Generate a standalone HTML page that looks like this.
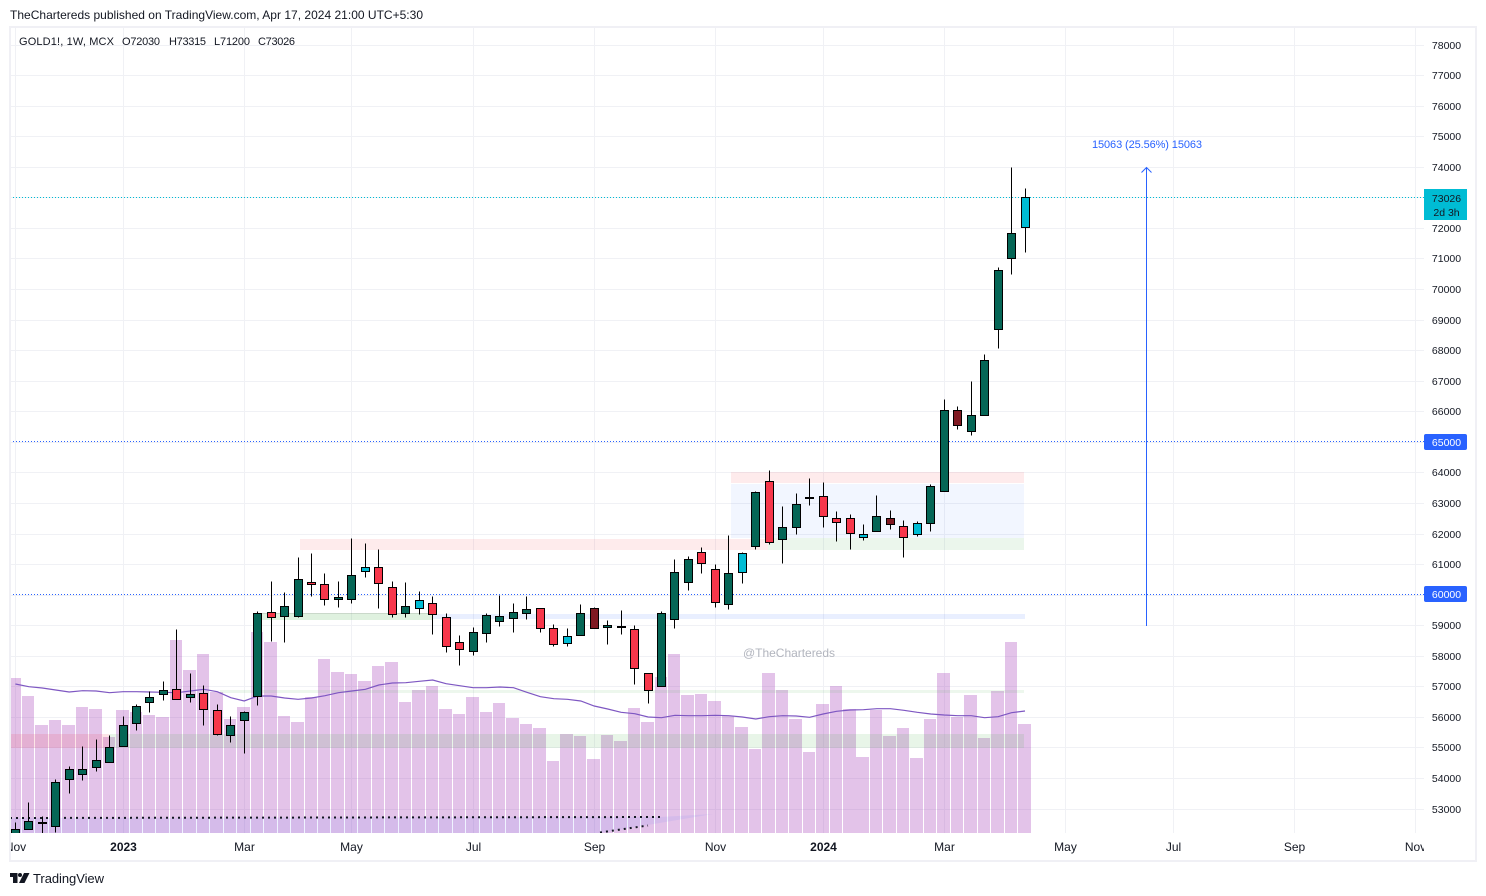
<!DOCTYPE html>
<html lang="en">
<head>
<meta charset="utf-8">
<title>GOLD1! 1W MCX chart</title>
<style>
html,body{margin:0;padding:0;background:#fff;width:1486px;height:896px;overflow:hidden}
svg{display:block}
text{font-family:"Liberation Sans",Arial,sans-serif;fill:#131722}
</style>
</head>
<body>
<svg id="chart" xmlns="http://www.w3.org/2000/svg" width="1486" height="896" viewBox="0 0 1486 896">
  <defs>
    <clipPath id="pane"><rect x="11" y="28" width="1413" height="805"/></clipPath>
    <clipPath id="timeClip"><rect x="11" y="834" width="1413" height="26"/></clipPath>
  </defs>
  <rect width="1486" height="896" fill="#fff"/>
  <text x="10" y="19" font-size="12" textLength="413" lengthAdjust="spacing">TheChartereds published on TradingView.com, Apr 17, 2024 21:00 UTC+5:30</text>
  <rect x="10" y="27" width="1466" height="834" fill="none" stroke="#f0f0f5" stroke-width="2" shape-rendering="crispEdges"/>

  <g id="gridH" shape-rendering="crispEdges"></g>
  <g id="gridV" shape-rendering="crispEdges"></g>

  <g clip-path="url(#pane)">
    <g id="volumeLayer" shape-rendering="crispEdges"></g>

    <g shape-rendering="crispEdges">
      <rect x="731" y="472" width="293" height="11" fill="rgba(242,54,69,.1)"/>
      <rect x="731" y="484" width="293" height="54" fill="rgba(41,98,255,.06)"/>
      <rect x="768" y="538" width="256" height="12" fill="rgba(76,175,80,.11)"/>
      <rect x="300" y="539" width="468" height="11" fill="rgba(242,54,69,.1)"/>
      <rect x="262" y="613" width="170" height="7" fill="rgba(76,175,80,.18)"/>
      <rect x="262" y="613" width="170" height="1" fill="rgba(120,120,120,.2)"/>
      <rect x="432" y="614" width="593" height="5" fill="rgba(41,98,255,.1)"/>
      <rect x="220" y="690" width="804" height="3" fill="rgba(76,175,80,.1)"/>
      <rect x="10" y="734" width="99" height="14" fill="rgba(242,54,69,.13)"/>
      <rect x="109" y="734" width="915" height="14" fill="rgba(76,175,80,.13)"/>
      <polygon points="10,818 660,817 713,814 600,833 10,833" fill="rgba(41,98,255,.075)" shape-rendering="auto"/>
    </g>

    <path id="maLine" fill="none" stroke="#7e57c2" stroke-width="1.2"/>

    <line x1="10" y1="818" x2="660" y2="817" stroke="#131722" stroke-width="2" stroke-dasharray="2 4"/>
    <line x1="600" y1="832.5" x2="648" y2="825.5" stroke="#131722" stroke-width="2" stroke-dasharray="2 4"/>

    <line x1="10" y1="441.5" x2="1424" y2="441.5" stroke="#2962ff" stroke-width="1" stroke-dasharray="1 2"/>
    <line x1="10" y1="594.5" x2="1424" y2="594.5" stroke="#2962ff" stroke-width="1" stroke-dasharray="1 2"/>
    <line id="lastLine" x1="10" y1="197.5" x2="1424" y2="197.5" stroke="#00bcd4" stroke-width="1" stroke-dasharray="1 2"/>

    <g id="candleLayer" shape-rendering="crispEdges"></g>

    <g>
      <line x1="1146.5" y1="626" x2="1146.5" y2="168" stroke="#2962ff" stroke-width="1" shape-rendering="crispEdges"/>
      <polyline points="1141.5,172.5 1146.5,167.5 1151.5,172.5" fill="none" stroke="#2962ff" stroke-width="1"/>
    </g>
    <text x="1092" y="148" font-size="11" textLength="110" lengthAdjust="spacing" style="fill:#2962ff">15063 (25.56%) 15063</text>
    <text x="743" y="657" font-size="12" textLength="92" lengthAdjust="spacing" style="fill:#b2b5be">@TheChartereds</text>
  </g>

  <g font-size="11">
    <text x="19" y="45" textLength="95" lengthAdjust="spacing">GOLD1!, 1W, MCX</text>
    <text x="122" y="45" textLength="38" lengthAdjust="spacing">O72030</text>
    <text x="169" y="45" textLength="37" lengthAdjust="spacing">H73315</text>
    <text x="214" y="45" textLength="36" lengthAdjust="spacing">L71200</text>
    <text x="258" y="45" textLength="37" lengthAdjust="spacing">C73026</text>
  </g>

  <g id="priceAxis" font-size="10.5" text-anchor="middle"></g>
  <g id="timeAxis" font-size="12" text-anchor="middle" clip-path="url(#timeClip)"></g>

  <g>
    <rect x="1424" y="434" width="43" height="16" rx="2" fill="#2962ff"/>
    <text x="1446.5" y="446" font-size="10.5" text-anchor="middle" style="fill:#fff">65000</text>
  </g>
  <g>
    <rect x="1424" y="586" width="43" height="16" rx="2" fill="#2962ff"/>
    <text x="1446.5" y="598" font-size="10.5" text-anchor="middle" style="fill:#fff">60000</text>
  </g>
  <g id="lastLabel">
    <rect x="1424" y="189" width="43" height="31" fill="#00bcd4"/>
    <text x="1446.5" y="202" font-size="10.5" text-anchor="middle">73026</text>
    <text x="1446.5" y="216" font-size="10.5" text-anchor="middle">2d 3h</text>
  </g>

  <g>
    <g fill="#131722">
      <rect x="10" y="873" width="7.5" height="4"/>
      <rect x="13" y="873" width="4.5" height="10"/>
      <circle cx="20" cy="875" r="2"/>
      <polygon points="24,873 29.5,873 24.5,883 19,883"/>
    </g>
    <text x="33" y="883" font-size="13" textLength="71" lengthAdjust="spacing">TradingView</text>
  </g>
</svg>

<script>
const opens = [52000,52313,52530,52398,53936,54100,54342,54505,55032,55768,56455,56717,56894,56619,56763,56207,55389,55879,56665,59413,59282,59269,60395,60329,59838,59838,60755,60886,60231,59380,59544,59708,59250,58432,58137,58726,59119,59217,59380,59544,58890,58399,58661,59544,58922,58940,58857,57417,56992,59184,60395,61376,60820,59675,60722,61573,63699,61802,62194,63163,63209,62489,62489,61867,62063,62489,62227,61965,62325,63372,66023,65335,65859,68673,70996,72030];
const highs = [52530,53196,52738,53949,54384,55038,55235,55366,56020,56380,56838,57133,58834,57427,57002,56380,56020,56174,59446,60437,60068,61190,61353,60699,60437,61844,61648,61484,60437,60372,60110,59914,59390,58670,58932,59390,59979,59685,59914,59544,59020,58899,59652,59577,59161,59456,58988,57417,59423,61125,61245,61540,60961,61910,61386,63382,64069,62891,63284,63807,63644,62695,62629,62270,63219,62728,62401,62368,63611,66360,66163,66949,67832,70679,73951,73315];
const lows = [51800,52313,51900,52200,53478,53903,54198,54505,55032,55539,56128,56521,56566,56478,55703,55375,55146,54787,56357,58474,58418,59236,59924,59629,59564,59695,60545,59531,59236,59236,59335,58680,58091,57666,57993,58418,58942,58746,59171,58746,58288,58288,58661,58890,58353,58680,57044,56423,56992,58877,60120,60676,59564,59498,60349,61475,61625,61003,61952,62901,62181,61723,61461,61756,62063,62116,61200,61887,62050,63372,65388,65191,65859,68038,70459,71200];
const closes = [52320,52575,52510,53851,54276,54276,54571,55000,55716,56315,56632,56861,56566,56730,56226,55421,55716,56141,59380,59250,59609,60493,60316,59838,59904,60624,60886,60362,59348,59609,59806,59348,58301,58202,58759,59315,59282,59413,59511,58890,58366,58628,59380,58890,58988,58920,57581,56861,59380,60722,61147,61016,59740,60689,61344,63340,61704,62194,62947,63130,62541,62358,61998,61965,62554,62293,61867,62325,63536,66023,65532,65859,67659,70603,71814,73026];
const volumes = [15500,13700,10800,11300,10800,12600,12400,9600,12300,12100,11800,11600,19300,16300,17900,14100,11400,12600,20100,19100,11700,11100,13600,17400,16100,15900,15200,16700,17100,13100,14300,14700,12400,11900,13600,12100,13000,11500,10900,10500,7200,9900,9700,7400,9800,9200,12500,11100,15600,17900,13800,13900,13200,11700,10600,8400,16000,14300,11400,8100,12900,14700,12400,7600,12300,9700,10500,7500,11400,16000,11600,13800,9500,14200,19100,10900];
const volumeMA = [14900,14630,14500,14300,14100,14230,14200,14030,14130,14130,14100,14070,14030,14200,14370,14130,13530,13200,13700,13700,13500,13370,13500,13730,14030,14200,14370,14800,15000,15030,15170,15300,14930,14730,14530,14530,14600,14530,14070,13630,13430,13370,13200,12700,12400,12070,11930,11600,11530,11770,11730,11730,11770,11730,11600,11400,11630,11730,11700,11570,11900,12170,12300,12330,12430,12430,12270,12070,11900,11800,11730,11730,11530,11630,12030,12200];
const cyanSignalCandles = [26,30,41,54,63,67,75];
const maroonSignalCandles = [43,65,70];
const priceTicks = [78000,77000,76000,75000,74000,73000,72000,71000,70000,69000,68000,67000,66000,65000,64000,63000,62000,61000,60000,59000,58000,57000,56000,55000,54000,53000];
const hiddenPriceTickLabels = [73000,65000,60000];
const timeTickIndexes = [0,8,17,25,34,43,52,60,69,78,86,95,104];
const timeTickLabels = ['Nov','2023','Mar','May','Jul','Sep','Nov','2024','Mar','May','Jul','Sep','Nov'];
const boldTimeTicks = ['2023','2024'];

const NS = 'http://www.w3.org/2000/svg';
function xScale(i){ return 15.36 + 13.462 * i; }
function yScale(p){ return 809.1 - (p - 53000) / 32.72; }
function volY(v){ return 833 - v * 0.01; }
function snap(v){ return Math.floor(v) + 0.5; }
function make(tag, parent){
  const el = document.createElementNS(NS, tag);
  parent.appendChild(el);
  return el;
}

const gridH = document.getElementById('gridH');
const gridV = document.getElementById('gridV');
const priceAxis = document.getElementById('priceAxis');
const timeAxis = document.getElementById('timeAxis');

priceTicks.forEach(function(p){
  const y = snap(yScale(p));
  const ln = make('line', gridH);
  
  
  ln.setAttribute('x1', 11);
  ln.setAttribute('x2', 1424);
  ln.setAttribute('y1', y);
  ln.setAttribute('y2', y);
  ln.setAttribute('stroke', '#f0f1f5');
  if (hiddenPriceTickLabels.indexOf(p) === -1) {
    const t = make('text', priceAxis);
    
    
    t.setAttribute('x', 1446.5);
    t.setAttribute('y', y + 3.5);
    t.textContent = String(p);
  }
});

timeTickIndexes.forEach(function(idx, k){
  const x = snap(xScale(idx));
  const ln = make('line', gridV);
  
  
  ln.setAttribute('x1', x);
  ln.setAttribute('x2', x);
  ln.setAttribute('y1', 28);
  ln.setAttribute('y2', 833);
  ln.setAttribute('stroke', '#f0f1f5');
  const t = make('text', timeAxis);
  
  
  t.setAttribute('x', x);
  t.setAttribute('y', 851);
  if (boldTimeTicks.indexOf(timeTickLabels[k]) !== -1) t.setAttribute('font-weight', 'bold');
  t.textContent = timeTickLabels[k];
});

const volumeLayer = document.getElementById('volumeLayer');
volumes.forEach(function(v, i){
  const x = xScale(i);
  const left = Math.floor(x - 6.5);
  const right = Math.floor(x + 6);
  const top = Math.round(volY(v));
  const bar = make('rect', volumeLayer);
  
  
  bar.setAttribute('x', left);
  bar.setAttribute('y', top);
  bar.setAttribute('width', right - left);
  bar.setAttribute('height', 833 - top);
  bar.setAttribute('fill', 'rgba(156,39,176,.28)');
});

document.getElementById('maLine').setAttribute('d', volumeMA.map(function(v, i){
  return (i ? 'L' : 'M') + xScale(i).toFixed(1) + ' ' + volY(v).toFixed(1);
}).join(' '));

const candleLayer = document.getElementById('candleLayer');
const lastIndex = closes.length - 1;
closes.forEach(function(c, i){
  const o = opens[i];
  const x = snap(xScale(i));
  const shift = i === lastIndex ? 0 : 0.8;
  const g = make('g', candleLayer);
  
  
  const wick = make('line', g);
  
  
  wick.setAttribute('x1', x);
  wick.setAttribute('x2', x);
  wick.setAttribute('y1', snap(yScale(highs[i]) - shift));
  wick.setAttribute('y2', snap(yScale(lows[i]) - shift));
  wick.setAttribute('stroke', '#000');
  let fill = c >= o ? '#056656' : '#f7374b';
  if (cyanSignalCandles.indexOf(i) !== -1) fill = '#00bcd4';
  if (maroonSignalCandles.indexOf(i) !== -1) fill = '#801922';
  if (Math.abs(c - o) < 40) fill = '#000';
  const top = snap(yScale(Math.max(o, c)) - shift);
  const bottom = snap(yScale(Math.min(o, c)) - shift);
  const body = make('rect', g);
  
  
  body.setAttribute('x', x - 4);
  body.setAttribute('y', top);
  body.setAttribute('width', 8);
  body.setAttribute('height', Math.max(bottom - top, 1));
  body.setAttribute('fill', fill);
  body.setAttribute('stroke', '#000');
});

const lastY = snap(yScale(closes[lastIndex]));
const lastLine = document.getElementById('lastLine');
lastLine.setAttribute('y1', lastY);
lastLine.setAttribute('y2', lastY);
document.getElementById('lastLabel').setAttribute('transform', 'translate(0 ' + (lastY - 197.5) + ')');
</script>
</body>
</html>
